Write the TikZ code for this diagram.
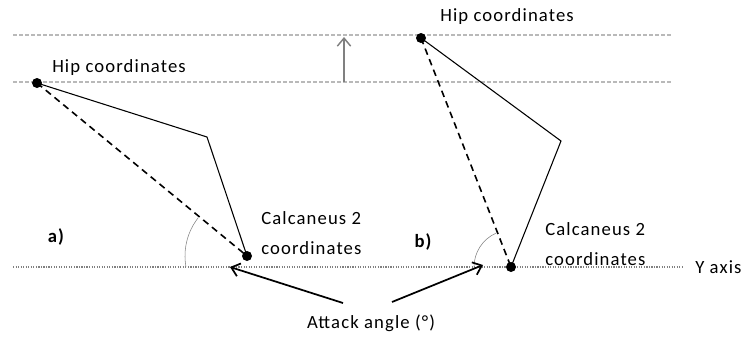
\documentclass[tikz,border=0pt]{standalone}
\usepackage{fontspec}
\setmainfont[LetterSpace=6]{Carlito}
\usetikzlibrary{arrows.meta}

\begin{document}
\begin{tikzpicture}[x=0.75pt,y=-0.75pt,>={Straight Barb[length=6pt,width=10pt]},
  guide/.style={draw=gray!55,dash pattern=on 3pt off 1.5pt,line width=0.9pt},
  axisline/.style={draw=gray,densely dotted,line width=0.9pt},
  bone/.style={line width=0.8pt},
  chord/.style={line width=1.2pt,dash pattern=on 5pt off 3.5pt},
  jnt/.style={circle,fill,inner sep=0pt,minimum size=7.5pt},
  lbl/.style={font=\fontsize{14}{16}\selectfont,inner sep=0pt}]
  \useasboundingbox (0,0) rectangle (743,336);
  % guide lines and axis
  \coordinate (t0) at (13,35);  \coordinate (t1) at (673,35);
  \coordinate (m0) at (13,82);  \coordinate (m1) at (673,82);
  \coordinate (y0) at (13,267); \coordinate (y1) at (682,267);
  \draw[guide] (t0) -- (t1);
  \draw[guide] (m0) -- (m1);
  \draw[axisline] (y0) -- (y1);
  \node[lbl,anchor=west] (yax) at (695,267) {Y axis};
  \coordinate (up0) at (344,82); \coordinate (up1) at (344,37);
  \draw[->,draw=gray,line width=1.1pt] (up0) -- (up1);
  % a)
  \node[jnt] (hipa) at (37,83) {};
  \coordinate (kneea) at (207,137);
  \node[jnt] (cala) at (247,256) {};
  \draw[bone] (hipa.center) -- (kneea) -- (cala.center);
  \draw[chord] (hipa.center) -- (cala.center);
  \draw[gray] (cala.center) ++(-142:62) arc[start angle=-142,end angle=-190,radius=62];
  \node[lbl,anchor=west] (hipla) at (52,68) {Hip coordinates};
  \node[lbl,anchor=west,align=left] (calla) at (261,233) {Calcaneus 2\\[6pt]coordinates};
  \node[lbl,font=\fontsize{14}{16}\selectfont\bfseries] (pa) at (56,237) {a)};
  % b)
  \node[jnt] (hipb) at (421,38) {};
  \coordinate (kneeb) at (561,141);
  \node[jnt] (calb) at (511,267) {};
  \draw[bone] (hipb.center) -- (kneeb) -- (calb.center);
  \draw[chord] (hipb.center) -- (calb.center);
  \draw[gray] (calb.center) ++(-114:37) arc[start angle=-114,end angle=-180,radius=37];
  \node[lbl,anchor=west] (hiplb) at (440,17) {Hip coordinates};
  \node[lbl,anchor=west,align=left] (callb) at (545,244) {Calcaneus 2\\[6pt]coordinates};
  \node[lbl,font=\fontsize{14}{16}\selectfont\bfseries] (pb) at (423,242) {b)};
  % attack angle
  \node[lbl] (atk) at (371,323) {Attack angle (°)};
  \coordinate (ta) at (343,303); \coordinate (ha) at (230,267);
  \coordinate (tb) at (392,302); \coordinate (hb) at (483,265);
  \draw[->,line width=1.3pt] (ta) -- (ha);
  \draw[->,line width=1.3pt] (tb) -- (hb);
\end{tikzpicture}
\end{document}
